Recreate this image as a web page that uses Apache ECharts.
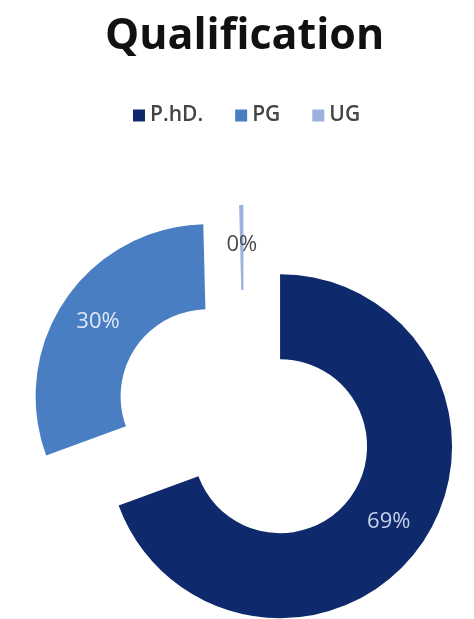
<!DOCTYPE html>
<html><head><meta charset="utf-8">
<script src="https://cdn.jsdelivr.net/npm/echarts@6/dist/echarts.min.js"></script>
<style>html,body{margin:0;padding:0;background:#fff}#c{width:474px;height:619px}</style>
</head><body><div id="c"></div>
<script>
const categories = ['P.hD.', 'PG', 'UG'];
const values = [69.4, 30.2, 0.4];
const colors = ['#0e2a6c', '#4a7ec3', '#9cb2dd'];
const labelColors = ['#c9cfe8', '#dfe8f6', '#4a4a4a'];

const chart = echarts.init(document.getElementById('c'));
chart.setOption({
  animation: false,
  title: {
    text: 'Qualification', left: 100, top: 10,
    textStyle: { fontFamily: 'Open Sans', fontWeight: 'bold', fontSize: 43, color: '#111' }
  },
  legend: {
    top: 100, left: 128, itemWidth: 12, itemHeight: 12, itemGap: 32,
    icon: 'rect',
    textStyle: { fontFamily: 'Open Sans', fontWeight: 600, fontSize: 21, color: '#444' },
    data: categories
  },
  series: [{
    type: 'pie',
    center: [244, 421],
    radius: [87, 172],
    startAngle: 90,
    clockwise: true,
    selectedMode: 'multiple',
    selectedOffset: 44,
    avoidLabelOverlap: false,
    legendHoverLink: false,
    label: {
      show: true, position: 'inside', fontFamily: 'Open Sans', fontSize: 22,
      formatter: p => Math.round(p.percent) + '%'
    },
    labelLine: { show: false },
    emphasis: { disabled: true },
    data: categories.map((n, i) => ({
      name: n, value: values[i], selected: true,
      itemStyle: { color: colors[i] },
      label: { color: labelColors[i] }
    }))
  }]
});
</script></body></html>
